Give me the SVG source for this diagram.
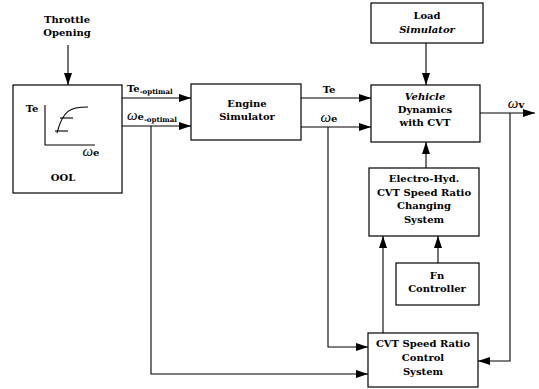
<svg xmlns="http://www.w3.org/2000/svg" width="539" height="389" viewBox="0 0 539 389">
<defs>
<marker id="ah" viewBox="0 0 12 8" refX="12" refY="4" markerWidth="12" markerHeight="8" markerUnits="userSpaceOnUse" orient="auto">
<path d="M0,0 L12,4 L0,8 Z" fill="#000"/>
</marker>
</defs>
<style>
.box{fill:#fff;stroke:#000;stroke-width:1.2}
.ln{fill:none;stroke:#000;stroke-width:1.1}
.ar{fill:none;stroke:#000;stroke-width:1.1;marker-end:url(#ah)}
text{font-family:"DejaVu Serif","Liberation Serif",serif;font-size:10px;font-weight:bold;fill:#000;text-anchor:middle}
.it{font-style:italic}
.sub{font-size:7px}
.om{font-family:"Liberation Serif",serif;font-style:italic;font-size:15px;font-weight:normal}
</style>
<rect width="539" height="389" fill="#fff"/>
<g id="connectors">
<line class="ar" x1="68" y1="45" x2="68" y2="85"/>
<line class="ar" x1="122" y1="98" x2="191" y2="98"/>
<line class="ar" x1="122" y1="126" x2="191" y2="126"/>
<line class="ar" x1="301" y1="98" x2="371" y2="98"/>
<line class="ar" x1="301" y1="127" x2="371" y2="127"/>
<line class="ar" x1="426" y1="43" x2="426" y2="85"/>
<line class="ar" x1="480" y1="113" x2="535" y2="113"/>
<line class="ar" x1="426" y1="168" x2="426" y2="142"/>
<line class="ar" x1="438" y1="263" x2="438" y2="236"/>
<line class="ar" x1="383" y1="333" x2="383" y2="236"/>
<polyline class="ar" points="328,127 328,347 368,347"/>
<polyline class="ar" points="151,126 151,374 368,374"/>
<polyline class="ar" points="510,113 510,361 478,361"/>
</g>
<g id="throttle">
<text x="67" y="23">Throttle</text>
<text x="67" y="36">Opening</text>
</g>
<g id="ool">
<rect class="box" x="13" y="85" width="109" height="108"/>
<polyline class="ln" points="45,105 45,145 95,145"/>
<path class="ln" d="M57,133 C63,110 70,107 88,107"/>
<line class="ln" x1="60" y1="118" x2="73" y2="118"/>
<line class="ln" x1="55" y1="131" x2="68" y2="131"/>
<text x="32" y="112">Te</text>
<text x="91" y="156"><tspan class="om">ω</tspan>e</text>
<text x="63" y="181">OOL</text>
</g>
<g id="labels">
<text x="127" y="92" style="text-anchor:start">Te<tspan class="sub" dy="2">-optimal</tspan></text>
<text x="127" y="120" style="text-anchor:start"><tspan class="om">ω</tspan>e<tspan class="sub" dy="2">-optimal</tspan></text>
<text x="329" y="93">Te</text>
<text x="329" y="122"><tspan class="om">ω</tspan>e</text>
<text x="516" y="108"><tspan class="om">ω</tspan>v</text>
</g>
<g id="engine">
<rect class="box" x="191" y="84" width="110" height="56"/>
<text x="247" y="107">Engine</text>
<text x="247" y="120">Simulator</text>
</g>
<g id="load">
<rect class="box" x="371" y="3" width="112" height="40"/>
<text x="427" y="19">Load</text>
<text x="427" y="33" class="it">Simulator</text>
</g>
<g id="vehicle">
<rect class="box" x="371" y="85" width="109" height="57"/>
<text x="425" y="100" class="it">Vehicle</text>
<text x="425" y="113">Dynamics</text>
<text x="425" y="126">with CVT</text>
</g>
<g id="electro">
<rect class="box" x="369" y="168" width="110" height="68"/>
<text x="424" y="182">Electro-Hyd.</text>
<text x="424" y="196">CVT Speed Ratio</text>
<text x="424" y="209">Changing</text>
<text x="424" y="223">System</text>
</g>
<g id="fn">
<rect class="box" x="396" y="263" width="83" height="42"/>
<text x="437" y="279">Fn</text>
<text x="437" y="292">Controller</text>
</g>
<g id="cvtctrl">
<rect class="box" x="368" y="333" width="110" height="54"/>
<text x="423" y="347">CVT Speed Ratio</text>
<text x="423" y="361">Control</text>
<text x="423" y="375">System</text>
</g>
</svg>
